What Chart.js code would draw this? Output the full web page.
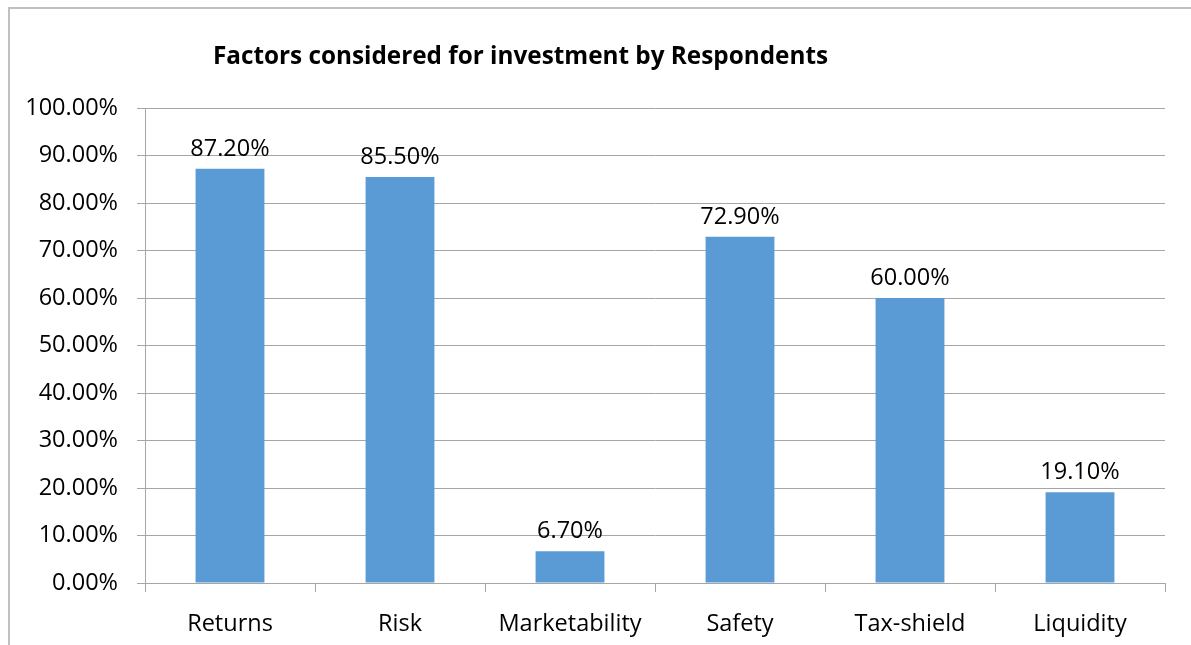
<!DOCTYPE html>
<html>
<head>
<meta charset="utf-8">
<script src="https://cdn.jsdelivr.net/npm/chart.js@4/dist/chart.umd.min.js"></script>
<style>
  html, body { margin: 0; padding: 0; background: #fff; }
  #wrap { position: relative; width: 1191px; height: 645px; }
  #titulo {
    position: absolute; left: 0; width: 1041px; top: 38px;
    text-align: center; font: bold 24.3px "Open Sans", sans-serif; color: #000;
  }
</style>
</head>
<body>
<div id="wrap">
  <canvas id="myChart" width="1191" height="645"></canvas>
  <div id="titulo">Factors considered for investment by Respondents</div>
</div>
<script>
const factores = ['Returns', 'Risk', 'Marketability', 'Safety', 'Tax-shield', 'Liquidity'];
const porcentajes = [87.2, 85.5, 6.7, 72.9, 60.0, 19.1];
const marcasY = [0, 10, 20, 30, 40, 50, 60, 70, 80, 90, 100];

const gris = '#a6a6a6';
const fuente = '"Open Sans", sans-serif';

// marco gris del grafico (arriba e izquierda)
const marco = {
  id: 'marco',
  beforeDraw(chart) {
    const c = chart.ctx;
    c.save();
    c.strokeStyle = '#c0c0c0';
    c.lineWidth = 2;
    c.beginPath();
    c.moveTo(9, 645);
    c.lineTo(9, 8);
    c.lineTo(1191, 8);
    c.stroke();
    c.restore();
  }
};

// etiquetas de valor encima de cada barra
const etiquetas = {
  id: 'etiquetas',
  afterDatasetsDraw(chart) {
    const c = chart.ctx;
    const meta = chart.getDatasetMeta(0);
    c.save();
    c.font = '23.5px ' + fuente;
    c.fillStyle = '#000';
    c.textAlign = 'center';
    c.textBaseline = 'bottom';
    meta.data.forEach((bar, i) => {
      c.fillText(porcentajes[i].toFixed(2) + '%', bar.x, bar.y - 8);
    });
    c.restore();
  }
};

var ctx = document.getElementById('myChart').getContext('2d');
var myChart = new Chart(ctx, {
  type: 'bar',
  data: {
    labels: factores,
    datasets: [{
      data: porcentajes,
      backgroundColor: '#5b9bd5',
      barPercentage: 0.405,
      categoryPercentage: 1
    }]
  },
  options: {
    responsive: false,
    animation: false,
    layout: { padding: { top: 108, right: 26, left: 0, bottom: 0 } },
    plugins: {
      legend: { display: false },
      tooltip: { enabled: false }
    },
    scales: {
      x: {
        grid: { drawOnChartArea: false, drawTicks: true, tickLength: 9, color: gris },
        border: { color: gris, width: 1 },
        ticks: { color: '#000', font: { family: fuente, size: 23.5 }, padding: 18, maxRotation: 0 },
        afterFit(scale) { scale.height = 62; }
      },
      y: {
        min: 0,
        max: 100,
        afterBuildTicks(scale) { scale.ticks = marcasY.map(v => ({ value: v })); },
        grid: { color: gris, tickLength: 8 },
        border: { color: gris, width: 1 },
        ticks: {
          color: '#000',
          font: { family: fuente, size: 23.5 },
          padding: 19,
          callback: (v) => v.toFixed(2) + '%'
        },
        afterFit(scale) { scale.width = 145; }
      }
    }
  },
  plugins: [marco, etiquetas]
});
</script>
</body>
</html>
